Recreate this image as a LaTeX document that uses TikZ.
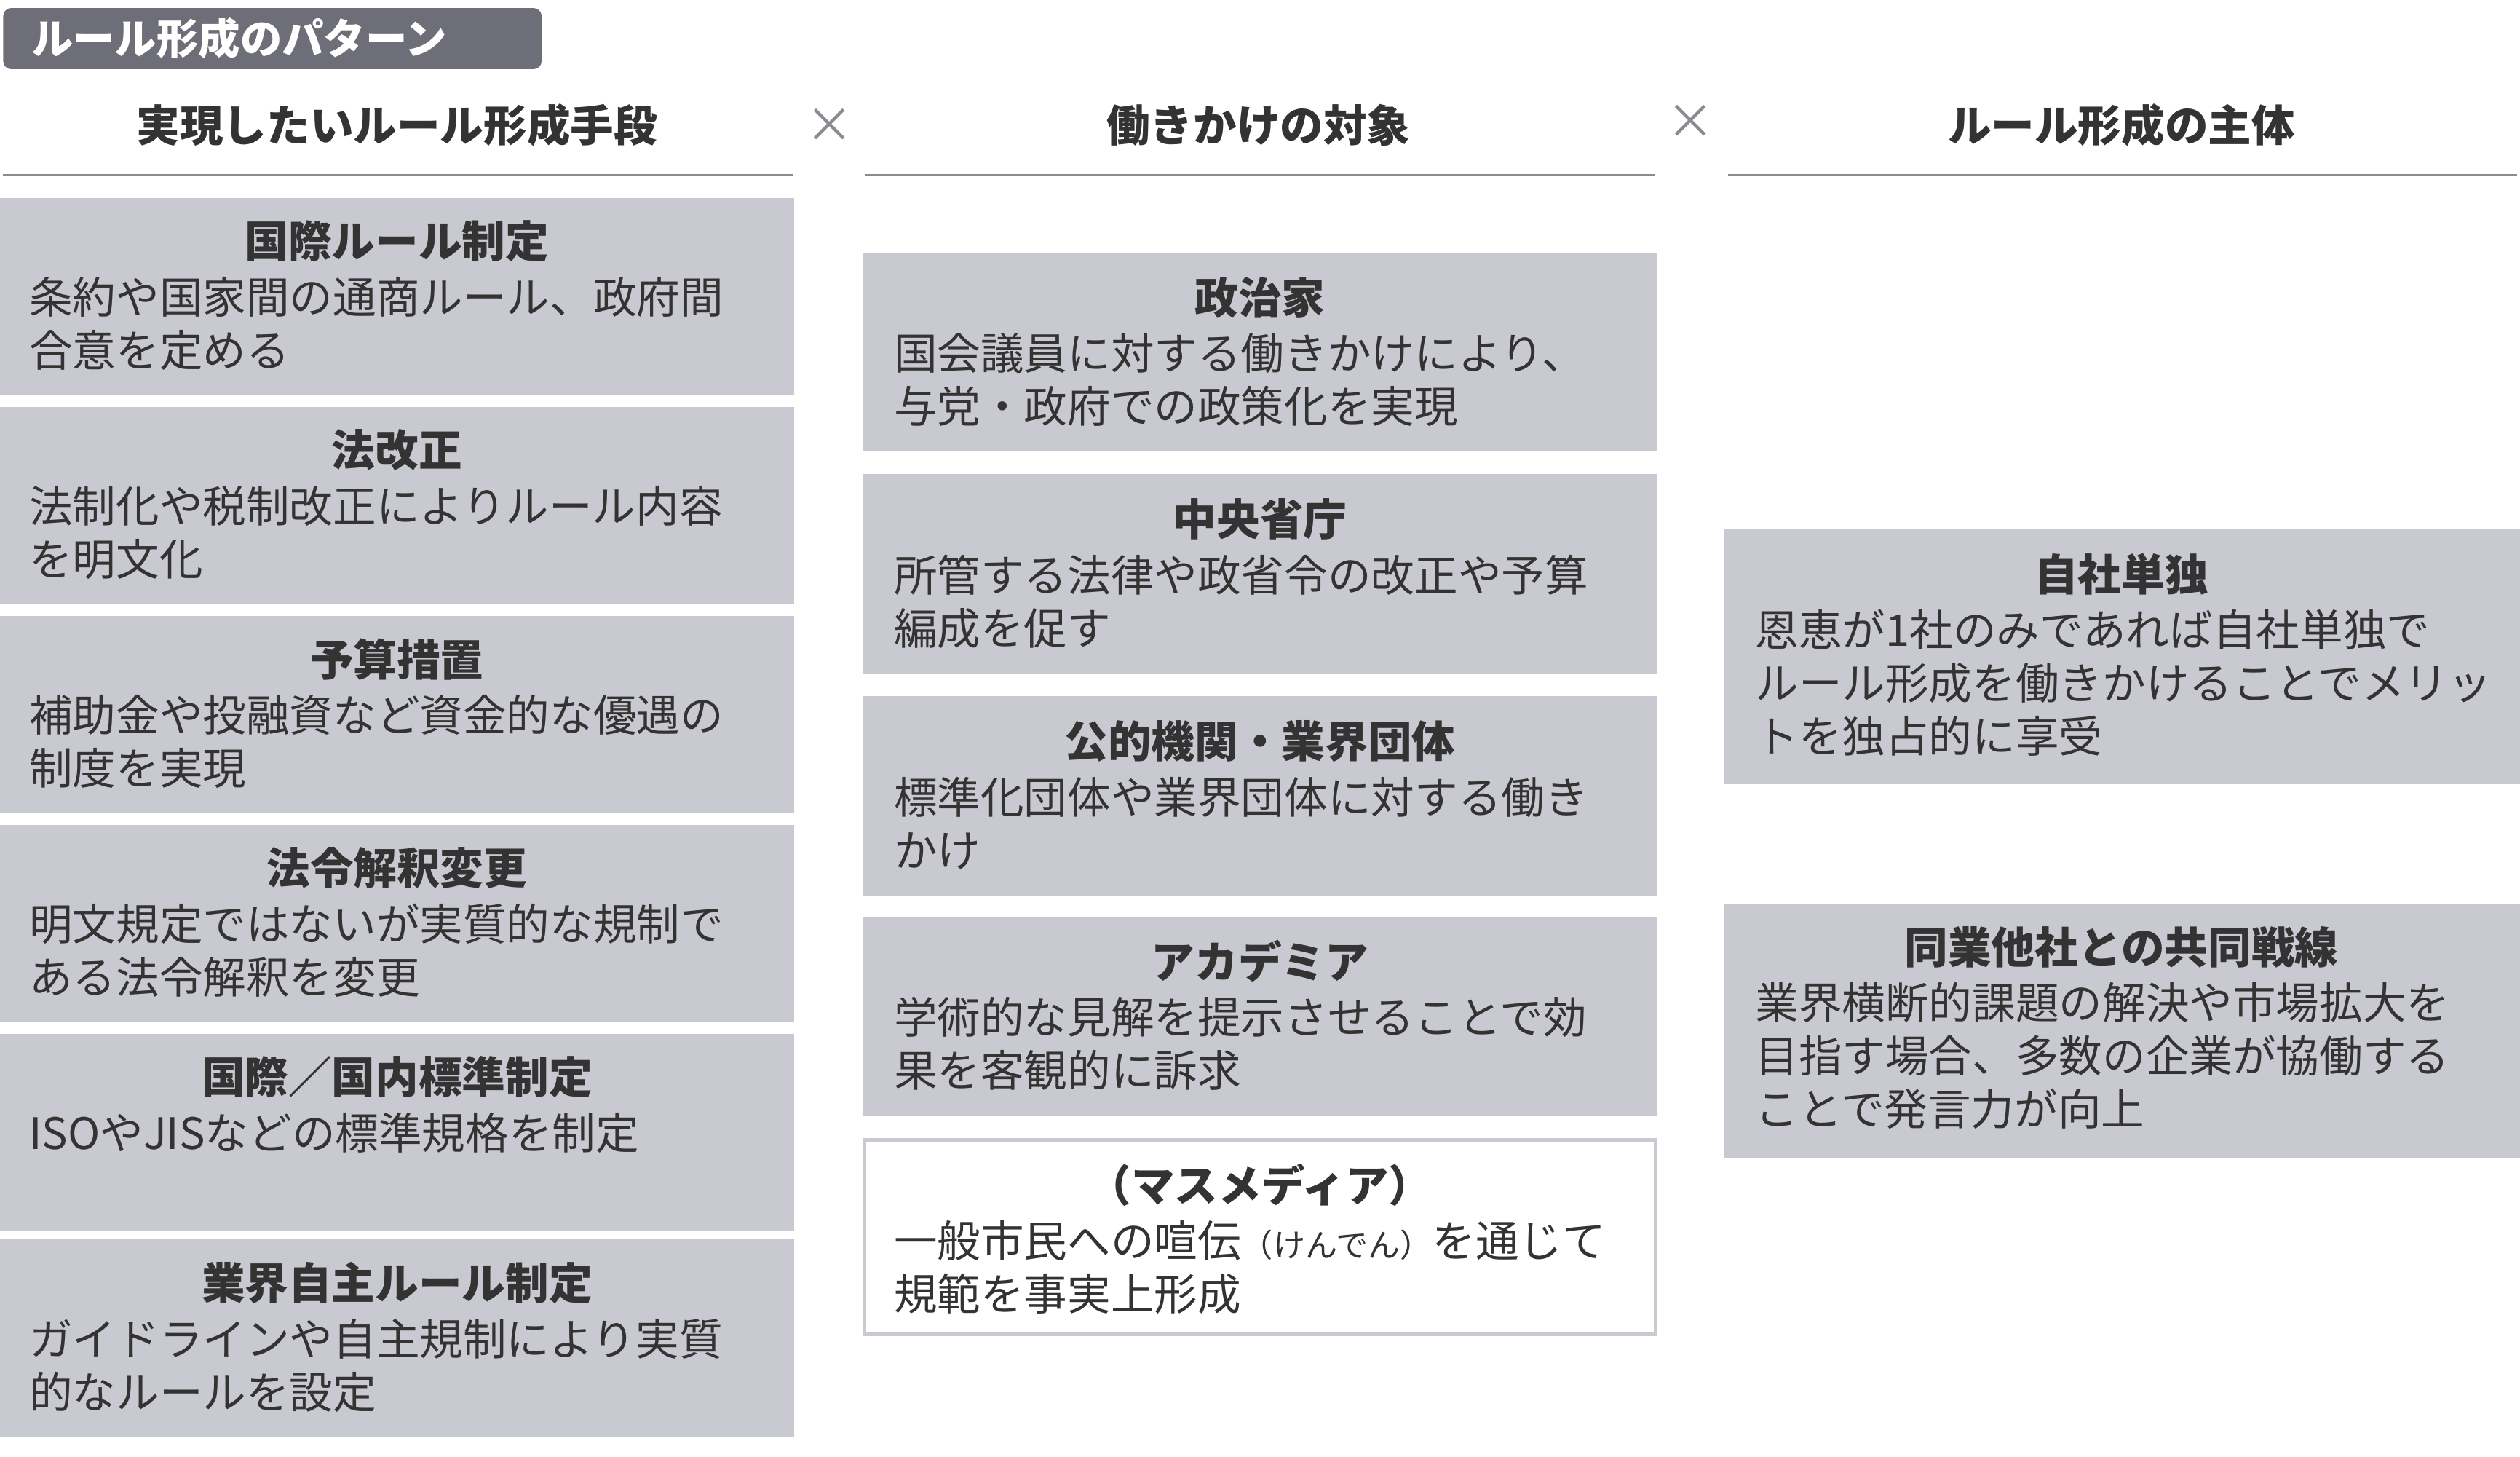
\documentclass[tikz,border=0pt]{standalone}
\usepackage{fontspec}
\setmainfont{Noto Sans CJK JP}
\usepackage{xcolor}
\usetikzlibrary{positioning}
\definecolor{boxgray}{HTML}{C9C9D1}
\definecolor{taggray}{HTML}{6E6E78}
\definecolor{txt}{HTML}{333333}
\definecolor{rulegray}{HTML}{8A8A90}
\tikzset{
  panel/.style={fill=boxgray, draw=none},
  panelw/.style={fill=white, draw=boxgray, line width=2pt},
  ptitle/.style={font=\fontsize{27}{32}\selectfont\bfseries, text=txt, anchor=center},
  pbody/.style={font=\fontsize{27}{33}\selectfont, text=txt, anchor=north west, align=left, inner sep=0pt},
  chead/.style={font=\fontsize{27}{32}\selectfont\bfseries, text=txt},
}
\newcommand{\pbox}[6]{% name, x0, y0, x1, y1, style
  \fill[#6] (#2,#3) rectangle (#4,#5);
  \coordinate (#1) at (#2,#3);}
\begin{document}
\begin{tikzpicture}[x=1pt, y=-1pt]
\useasboundingbox (0,0) rectangle (1568,906);
% tag
\fill[taggray, rounded corners=5pt] (2,5) rectangle (337,43);
\node[font=\fontsize{26}{30}\selectfont\bfseries, text=white, anchor=west] (tag) at (16,24) {ルール形成のパターン};
% headers
\node[chead] (h1) at (247,78) {実現したいルール形成手段};
\node[chead] (h2) at (783,78) {働きかけの対象};
\node[chead] (h3) at (1320,78) {ルール形成の主体};
\node[font=\fontsize{30}{30}\selectfont, text=rulegray] (x1) at (516,78) {×};
\node[font=\fontsize{30}{30}\selectfont, text=rulegray] (x2) at (1052,76) {×};
\draw[rulegray, line width=1.5pt] (2,109) -- (493,109);
\draw[rulegray, line width=1.5pt] (538,109) -- (1030,109);
\draw[rulegray, line width=1.5pt] (1075,109) -- (1566,109);
% column 1
\foreach \y/\t/\b in {
  123/国際ルール制定/{条約や国家間の通商ルール、政府間\\合意を定める},
  253/法改正/{法制化や税制改正によりルール内容\\を明文化},
  383/予算措置/{補助金や投融資など資金的な優遇の\\制度を実現},
  513/法令解釈変更/{明文規定ではないが実質的な規制で\\ある法令解釈を変更},
  643/国際／国内標準制定/{ISOやJISなどの標準規格を制定},
  771/業界自主ルール制定/{ガイドラインや自主規制により実質\\的なルールを設定}}{
  \fill[panel] (0,\y) rectangle (494,\y+123);
  \node[ptitle] at (247,\y+27) {\t};
  \node[pbody] at (18,\y+49) {\b};
}
% column 2
\foreach \y/\t/\b in {
  157/政治家/{国会議員に対する働きかけにより、\\与党・政府での政策化を実現},
  295/中央省庁/{所管する法律や政省令の改正や予算\\編成を促す},
  433/公的機関・業界団体/{標準化団体や業界団体に対する働き\\かけ},
  570/アカデミア/{学術的な見解を提示させることで効\\果を客観的に訴求}}{
  \fill[panel] (537,\y) rectangle (1031,\y+124);
  \node[ptitle] at (784,\y+28) {\t};
  \node[pbody] at (556,\y+50) {\b};
}
\draw[panelw] (538,709) rectangle (1030,830);
\node[ptitle] (media) at (784,737) {（マスメディア）};
\node[pbody] (mediab) at (556,759) {一般市民への喧伝{\fontsize{20}{20}\selectfont（けんでん）}を通じて\\規範を事実上形成};
% column 3
\fill[panel] (1073,329) rectangle (1568,488);
\node[ptitle] (self) at (1320,357) {自社単独};
\node[pbody] (selfb) at (1092,379) {恩恵が1社のみであれば自社単独で\\ルール形成を働きかけることでメリッ\\トを独占的に享受};
\fill[panel] (1073,562) rectangle (1568,720);
\node[ptitle] (joint) at (1320,589) {同業他社との共同戦線};
\node[pbody] (jointb) at (1092,611) {業界横断的課題の解決や市場拡大を\\目指す場合、多数の企業が協働する\\ことで発言力が向上};
\end{tikzpicture}
\end{document}
